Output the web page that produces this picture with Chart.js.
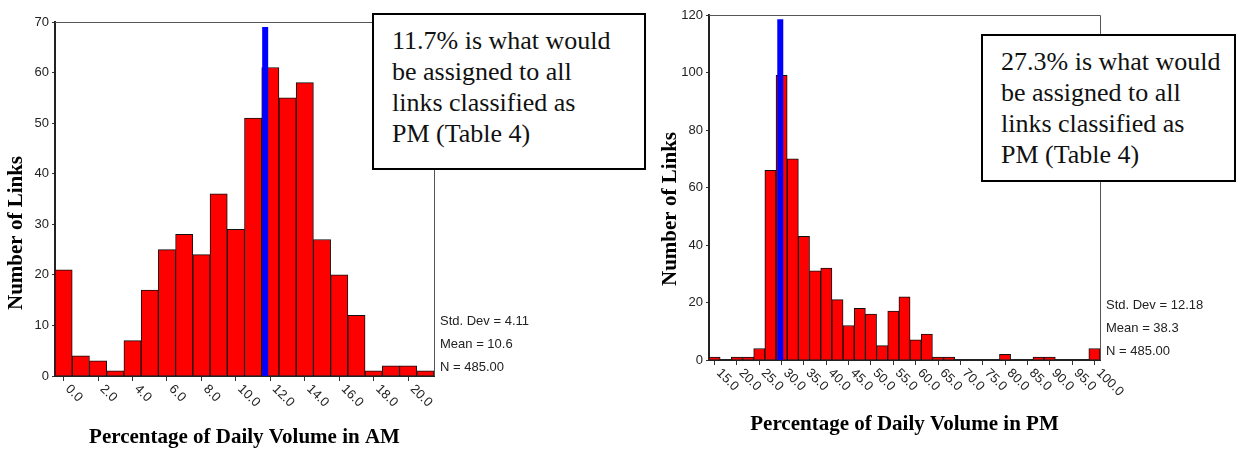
<!DOCTYPE html>
<html>
<head>
<meta charset="utf-8">
<script src="https://cdn.jsdelivr.net/npm/chart.js@4.4.1/dist/chart.umd.min.js"></script>
<style>
  body { margin: 0; background: #fff; width: 1245px; height: 449px; overflow: hidden; position: relative; }
  .wrap { position: absolute; top: 0; height: 449px; }
  #amWrap { left: 0; width: 640px; }
  #pmWrap { left: 640px; width: 605px; }
  .note {
    position: absolute; z-index: 5; box-sizing: border-box;
    border: 2px solid #000; background: #fff; color: #111;
    font-family: "Liberation Serif", "Times New Roman", serif;
    font-size: 26px; line-height: 31px; white-space: nowrap;
    padding: 10px 0 0 18px;
  }
  #amNote { left: 372px; top: 13px; width: 274px; height: 157px; }
  #pmNote { left: 981px; top: 34px; width: 255px; height: 148px; }
</style>
</head>
<body>
<div class="wrap" id="amWrap"><canvas id="amChart"></canvas></div>
<div class="wrap" id="pmWrap"><canvas id="pmChart"></canvas></div>
<div class="note" id="amNote">11.7% is what would<br>be assigned to all<br>links classified as<br>PM (Table 4)</div>
<div class="note" id="pmNote">27.3% is what would<br>be assigned to all<br>links classified as<br>PM (Table 4)</div>
<script>
// AM histogram (bin centres, counts)
var amBins = [0, 1, 2, 3, 4, 5, 6, 7, 8, 9, 10, 11, 12, 13, 14, 15, 16, 17, 18, 19, 20, 21];
var amCounts = [21, 4, 3, 1, 7, 17, 25, 28, 24, 36, 29, 51, 61, 55, 58, 27, 20, 12, 1, 2, 2, 1];
var amTickValues = [0, 2, 4, 6, 8, 10, 12, 14, 16, 18, 20];
var amTickLabels = ['0.0', '2.0', '4.0', '6.0', '8.0', '10.0', '12.0', '14.0', '16.0', '18.0', '20.0'];
var amMarker = 11.7, amMarkerTop = 69;
var amStats = ['Std. Dev = 4.11', 'Mean = 10.6', 'N = 485.00'];

// PM histogram
var pmBins = [15, 17.5, 20, 22.5, 25, 27.5, 30, 32.5, 35, 37.5, 40, 42.5, 45, 47.5, 50, 52.5, 55, 57.5,
              60, 62.5, 65, 67.5, 70, 72.5, 75, 77.5, 80, 82.5, 85, 87.5, 90, 92.5, 95, 97.5, 100];
var pmCounts = [1, 0, 1, 1, 4, 66, 99, 70, 43, 31, 32, 21, 12, 18, 16, 5, 17, 22,
                7, 9, 1, 1, 0, 0, 0, 0, 2, 0, 0, 1, 1, 0, 0, 0, 4];
var pmTickValues = [15, 20, 25, 30, 35, 40, 45, 50, 55, 60, 65, 70, 75, 80, 85, 90, 95, 100];
var pmTickLabels = ['15.0', '20.0', '25.0', '30.0', '35.0', '40.0', '45.0', '50.0', '55.0', '60.0',
                    '65.0', '70.0', '75.0', '80.0', '85.0', '90.0', '95.0', '100.0'];
var pmMarker = 29.7, pmMarkerTop = 118.5;
var pmStats = ['Std. Dev = 12.18', 'Mean = 38.3', 'N = 485.00'];

var SANS = '"Liberation Sans", Arial, sans-serif';
var SERIF = '"Liberation Serif", "Times New Roman", serif';

// frame, rotated x labels, stats and axis titles
var decor = {
  id: 'decor',
  afterDraw: function(chart, args, o) {
    var ctx = chart.ctx, a = chart.chartArea, x = chart.scales.x;
    ctx.save();
    ctx.strokeStyle = '#555';
    ctx.lineWidth = 1;
    ctx.beginPath();
    ctx.moveTo(a.left, a.top + 0.5);
    ctx.lineTo(a.right + 0.5, a.top + 0.5);
    ctx.lineTo(a.right + 0.5, a.bottom);
    ctx.stroke();

    ctx.fillStyle = '#222';
    ctx.font = '13px ' + SANS;
    ctx.textAlign = 'left';
    ctx.textBaseline = 'middle';
    o.values.forEach(function(v, i) {
      ctx.save();
      ctx.translate(x.getPixelForValue(v) + 4, a.bottom + 11);
      ctx.rotate(Math.PI / 4);
      ctx.fillText(o.labels[i], 0, 0);
      ctx.restore();
    });
    o.stats.forEach(function(s, i) {
      ctx.fillText(s, a.right + 6, a.bottom - 54.5 + i * 22.8);
    });

    ctx.fillStyle = '#000';
    ctx.font = 'bold 21px ' + SERIF;
    ctx.textAlign = 'center';
    ctx.fillText(o.xTitle, (a.left + a.right) / 2, a.bottom + o.xTitleGap);
    ctx.translate(a.left - 38, o.yTitleY);
    ctx.rotate(-Math.PI / 2);
    ctx.fillText('Number of Links', 0, 0);
    ctx.restore();
  }
};

function makeChart(id, bins, counts, marker, markerTop, xr, yr, axisW, pad, deco) {
  return new Chart(document.getElementById(id), {
    type: 'bar',
    data: {
      datasets: [{
        type: 'line',
        data: [{x: marker, y: 0}, {x: marker, y: markerTop}],
        borderColor: '#0000ff',
        borderWidth: 6,
        borderCapStyle: 'butt',
        pointRadius: 0,
        order: 0
      }, {
        data: bins.map(function(b, i) { return {x: b, y: counts[i]}; }),
        backgroundColor: '#ff0000',
        borderColor: '#111',
        borderWidth: 1,
        barPercentage: 1,
        categoryPercentage: 1,
        order: 1
      }]
    },
    options: {
      responsive: true,
      maintainAspectRatio: false,
      animation: false,
      layout: { padding: pad },
      plugins: { legend: { display: false }, tooltip: { enabled: false }, decor: deco },
      scales: {
        x: {
          type: 'linear', min: xr[0], max: xr[1], offset: false,
          grid: { offset: false, drawOnChartArea: false, tickLength: 5, color: '#333' },
          border: { color: '#222', width: 2 },
          ticks: { display: false },
          afterBuildTicks: function(ax) { ax.ticks = deco.values.map(function(v) { return {value: v}; }); },
          afterFit: function(ax) { ax.height = 0; }
        },
        y: {
          min: 0, max: yr[0],
          grid: { drawOnChartArea: false, tickLength: 3, color: '#333' },
          border: { color: '#222', width: 2 },
          ticks: { stepSize: yr[1], padding: 3, color: '#222', font: { family: SANS, size: 13 } },
          afterFit: function(ax) { ax.width = axisW; }
        }
      }
    },
    plugins: [decor]
  });
}

makeChart('amChart', amBins, amCounts, amMarker, amMarkerTop, [-0.5, 21.5], [70, 10], 55,
  { left: 0, top: 22, right: 206, bottom: 73 },
  { values: amTickValues, labels: amTickLabels, stats: amStats,
    xTitle: 'Percentage of Daily Volume in AM', xTitleGap: 62, yTitleY: 233 });

makeChart('pmChart', pmBins, pmCounts, pmMarker, pmMarkerTop, [13.75, 101.25], [120, 20], 69,
  { left: 0, top: 15, right: 145, bottom: 89 },
  { values: pmTickValues, labels: pmTickLabels, stats: pmStats,
    xTitle: 'Percentage of Daily Volume in PM', xTitleGap: 65, yTitleY: 209 });
</script>
</body>
</html>
